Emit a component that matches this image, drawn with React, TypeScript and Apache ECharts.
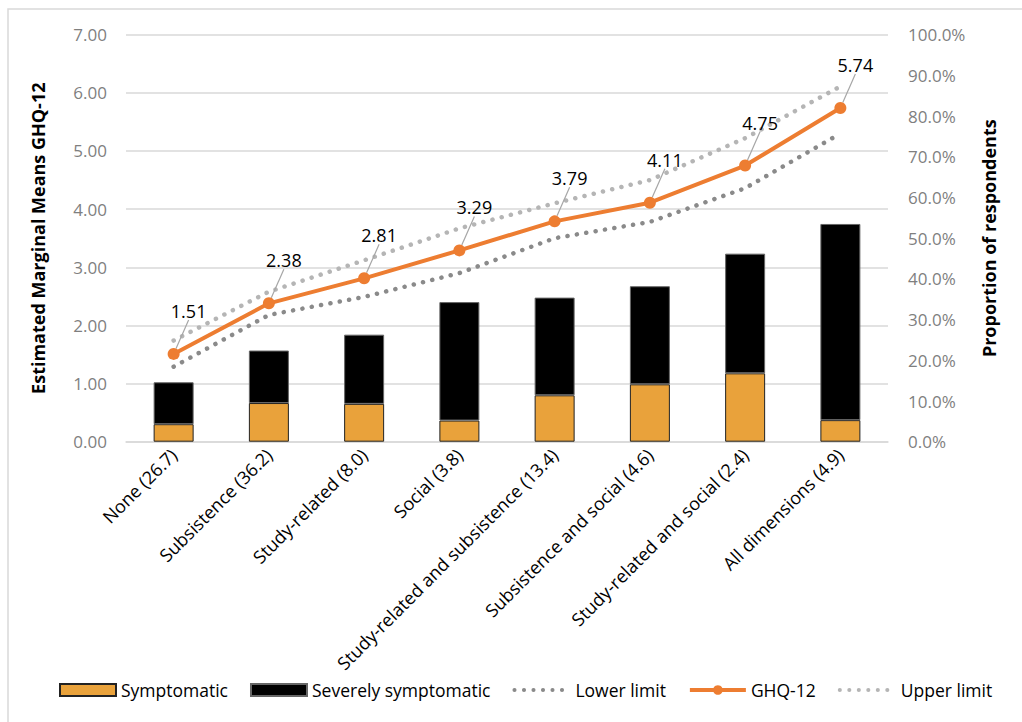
import React, { useEffect, useRef } from "react";
import * as echarts from "echarts";

const categories = [
  "None (26.7)",
  "Subsistence (36.2)",
  "Study-related (8.0)",
  "Social (3.8)",
  "Study-related and subsistence (13.4)",
  "Subsistence and social (4.6)",
  "Study-related and social (2.4)",
  "All dimensions (4.9)",
];

// Proportion of respondents (%)
const symptomatic = [4.3, 9.5, 9.3, 5.2, 11.4, 14.1, 16.8, 5.3];
const severelySymptomatic = [10.3, 12.9, 17.0, 29.1, 24.0, 24.1, 29.4, 48.2];

// Estimated marginal means GHQ-12
const ghq12 = [1.51, 2.38, 2.81, 3.29, 3.79, 4.11, 4.75, 5.74];
const lowerLimit = [1.29, 2.18, 2.49, 2.9, 3.5, 3.78, 4.36, 5.3];
const upperLimit = [1.74, 2.58, 3.12, 3.67, 4.1, 4.5, 5.22, 6.11];

const leftTicks = { min: 0, max: 7, interval: 1 };
const rightTicks = { min: 0, max: 100, interval: 10 };

const FONT = "'Open Sans', 'Noto Sans', sans-serif";

export default function App() {
  const ref = useRef<HTMLDivElement>(null);

  useEffect(() => {
    if (!ref.current) return;
    const chart = echarts.init(ref.current, undefined, { renderer: "svg" });
    const dotted = (color: string) => ({
      color,
      width: 4.5,
      type: [0.1, 9.4] as any,
      cap: "round" as any,
    });
    chart.setOption({
      animation: false,
      backgroundColor: "#fff",
      textStyle: { fontFamily: FONT },
      graphic: [
        {
          type: "rect",
          shape: { x: 8, y: 9, width: 1040, height: 740 },
          style: { fill: "none", stroke: "#d9d9d9", lineWidth: 1.5 },
          silent: true,
          z: -10,
        },
      ],
      grid: { left: 126, right: 134, top: 34.7, bottom: 280.3 },
      legend: {
        bottom: 18,
        left: 54,
        itemWidth: 56,
        itemHeight: 12,
        itemGap: 22,
        textStyle: { fontSize: 17.5, color: "#000", fontFamily: FONT },
        data: [
          { name: "Symptomatic", icon: "rect" },
          { name: "Severely symptomatic", icon: "rect" },
          { name: "Lower limit", itemStyle: { opacity: 0 }, lineStyle: { width: 4 } },
          { name: "GHQ-12", lineStyle: { width: 4 } },
          { name: "Upper limit", itemStyle: { opacity: 0 }, lineStyle: { width: 4 } },
        ],
      },
      xAxis: {
        type: "category",
        data: categories,
        boundaryGap: true,
        axisTick: { show: false },
        axisLine: { lineStyle: { color: "#d9d9d9", width: 1.5 } },
        axisLabel: { rotate: 45, interval: 0, fontSize: 18, color: "#000", margin: 10 },
      },
      yAxis: [
        {
          type: "value",
          ...leftTicks,
          name: "Estimated Marginal Means GHQ-12",
          nameLocation: "middle",
          nameRotate: 90,
          nameGap: 79,
          nameTextStyle: { fontSize: 18, fontWeight: "bold", color: "#000" },
          axisLine: { show: false },
          axisTick: { show: false },
          splitLine: { lineStyle: { color: "#d9d9d9", width: 1.5 } },
          axisLabel: {
            fontSize: 17,
            color: "#7f7f7f",
            margin: 19,
            formatter: (v: number) => v.toFixed(2),
          },
        },
        {
          type: "value",
          ...rightTicks,
          name: "Proportion of respondents",
          nameLocation: "middle",
          nameRotate: 90,
          nameGap: 92,
          nameTextStyle: { fontSize: 18, fontWeight: "bold", color: "#000" },
          axisLine: { show: false },
          axisTick: { show: false },
          splitLine: { show: false },
          axisLabel: {
            fontSize: 17,
            color: "#7f7f7f",
            margin: 20,
            formatter: (v: number) => v.toFixed(1) + "%",
          },
        },
      ],
      series: [
        {
          name: "Symptomatic",
          type: "bar",
          yAxisIndex: 1,
          stack: "p",
          barWidth: 40,
          data: symptomatic,
          itemStyle: { color: "#E9A23B", borderColor: "#222", borderWidth: 1 },
        },
        {
          name: "Severely symptomatic",
          type: "bar",
          yAxisIndex: 1,
          stack: "p",
          barWidth: 40,
          data: severelySymptomatic,
          itemStyle: { color: "#000", borderColor: "#666", borderWidth: 1 },
        },
        {
          name: "Lower limit",
          type: "line",
          yAxisIndex: 0,
          data: lowerLimit,
          symbol: "none",
          lineStyle: dotted("#8a8a8a"),
          itemStyle: { color: "#8a8a8a" },
        },
        {
          name: "Upper limit",
          type: "line",
          yAxisIndex: 0,
          data: upperLimit,
          symbol: "none",
          lineStyle: dotted("#b5b5b5"),
          itemStyle: { color: "#b5b5b5" },
        },
        {
          name: "GHQ-12",
          type: "line",
          yAxisIndex: 0,
          data: ghq12,
          symbol: "circle",
          symbolSize: 12,
          lineStyle: { color: "#ED7D31", width: 4 },
          itemStyle: { color: "#ED7D31" },
          label: {
            show: true,
            position: "top",
            fontSize: 18,
            color: "#000",
            formatter: (p: any) => Number(p.value).toFixed(2),
          },
          labelLayout: { dx: 15, dy: -23 },
          labelLine: { show: true, lineStyle: { color: "#a6a6a6", width: 1.2 } },
          z: 5,
        },
      ],
    });
    return () => chart.dispose();
  }, []);

  return (
    <div
      ref={ref}
      style={{ position: "fixed", left: 0, top: 0, width: 1022, height: 722 }}
    />
  );
}
